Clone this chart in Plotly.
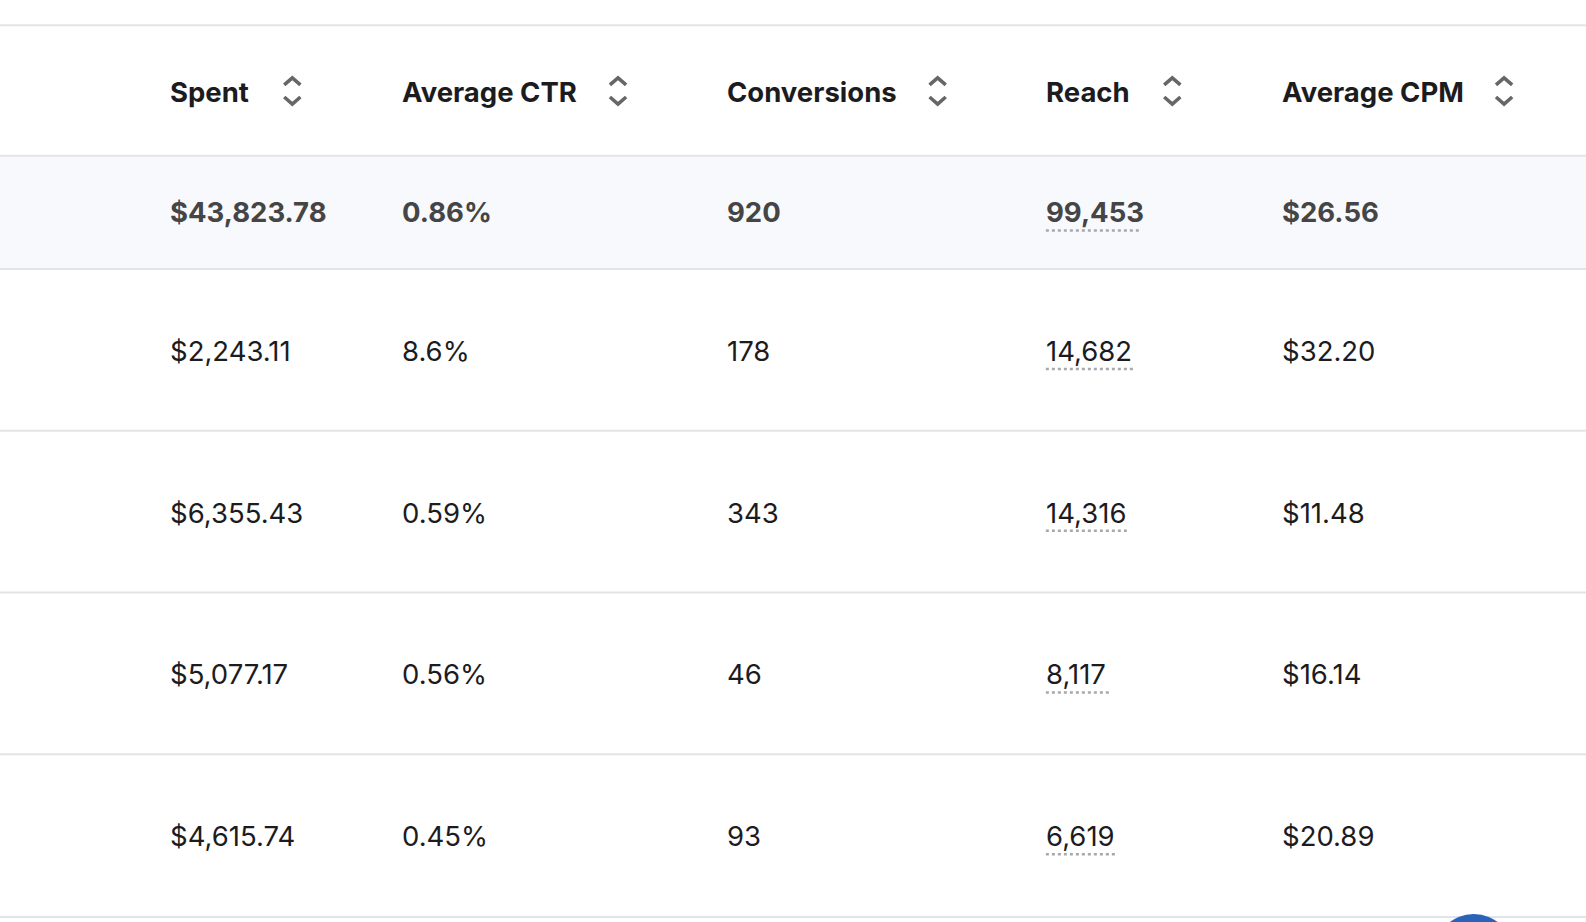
import plotly.graph_objects as go

headers = ["Spent", "Average CTR", "Conversions", "Reach", "Average CPM"]
spent = ["$43,823.78", "$2,243.11", "$6,355.43", "$5,077.17", "$4,615.74"]
ctr = ["0.86%", "8.6%", "0.59%", "0.56%", "0.45%"]
conversions = ["920", "178", "343", "46", "93"]
reach = ["99,453", "14,682", "14,316", "8,117", "6,619"]
cpm = ["$26.56", "$32.20", "$11.48", "$16.14", "$20.89"]
columns = [spent, ctr, conversions, reach, cpm]

col_x = [168, 397, 719, 1034, 1267]
icon_x = [289, 611, 927, 1159, 1487]
row_y = [210, 347, 507, 667, 827]
lines_y = [25, 154, 266, 426, 586, 746, 907]
reach_w = [92, 87, 83, 64, 70]
FONT = "Inter, Roboto, sans-serif"
W, H = 1568, 912

fig = go.Figure()
shapes = []
ann = []
shapes.append(dict(type="rect", x0=0, x1=W, y0=154, y1=266, fillcolor="#f8f9fc", line_width=0, layer="below"))
for y in lines_y:
    shapes.append(dict(type="line", x0=0, x1=W, y0=y, y1=y, line=dict(color="#e3e4e8", width=2)))
shapes.append(dict(type="circle", x0=1418, x1=1496, y0=904, y1=982, fillcolor="#2b63b8", line_width=0))

for h, x, ix in zip(headers, col_x, icon_x):
    ann.append(dict(x=x, y=91, text="<b>" + h + "</b>", xanchor="left", yanchor="middle", showarrow=False,
                    xshift=-2, font=dict(family=FONT, size=27.5, color="#1c1c1f")))
    shapes.append(dict(type="path", path=f"M {ix-8},{84} L {ix},{77} L {ix+8},{84}", line=dict(color="#666666", width=3.5)))
    shapes.append(dict(type="path", path=f"M {ix-8},{96} L {ix},{103} L {ix+8},{96}", line=dict(color="#666666", width=3.5)))

for ci, col in enumerate(columns):
    for ri, v in enumerate(col):
        bold = ri == 0
        ann.append(dict(x=col_x[ci], y=row_y[ri], text=("<b>" + v + "</b>") if bold else v,
                        xanchor="left", yanchor="middle", showarrow=False, xshift=-2,
                        font=dict(family=FONT, size=27.5, color="#454545" if bold else "#1c1c1f")))

for ri, w in enumerate(reach_w):
    y = row_y[ri] + 18
    shapes.append(dict(type="line", x0=col_x[3], x1=col_x[3] + w, y0=y, y1=y,
                       line=dict(color="#a8a8ae", width=2.5, dash="dot")))

fig.update_layout(width=1586, height=922, margin=dict(l=0, r=0, t=0, b=0),
                  paper_bgcolor="white", plot_bgcolor="white",
                  xaxis=dict(range=[0, W], visible=False, fixedrange=True),
                  yaxis=dict(range=[H, 0], visible=False, fixedrange=True),
                  shapes=shapes, annotations=ann, showlegend=False)
fig.write_html("out.html", config={"displayModeBar": False},
               post_script="document.body.style.margin='0';document.body.style.overflow='hidden';")
